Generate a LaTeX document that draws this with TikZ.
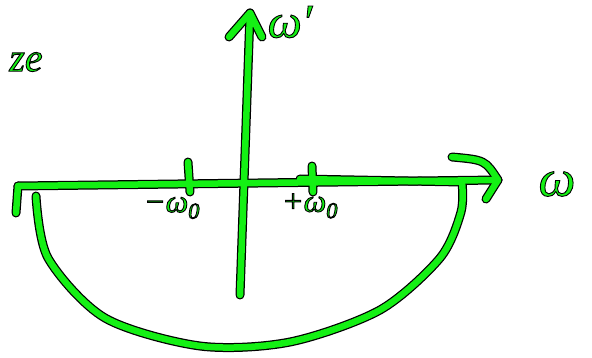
\documentclass[tikz,border=0pt]{standalone}
\usepackage{fontspec}
\setmainfont{Liberation Serif}
\usetikzlibrary{positioning}
\definecolor{sketchgreen}{RGB}{20,240,20}
\tikzset{
  outline/.style={draw=black, line width=9pt, line cap=round, line join=round},
  ink/.style={draw=sketchgreen, line width=6.5pt, line cap=round, line join=round},
  lbl/.style={inner sep=0pt, font=\fontsize{#1}{#1}\selectfont\itshape},
  lbl/.default=30
}
% green letters with a black rim
\newcommand\inked[1]{\textcolor{sketchgreen}{\special{pdf:literal 0 0 0 RG 2 Tr 0.9 w}#1\special{pdf:literal 0 Tr}}}
% all strokes, drawn once as outline and once as ink
\newcommand\sketchlines[1]{%
  \draw[#1] (hl) -- (hr);
  \draw[#1] (hook) -- (hl);
  \draw[#1] (hup) .. controls (485,160) .. (hr) -- (hdn);
  \draw[#1] (vb) -- (vt);
  \draw[#1] (vup) -- (vt) -- (vdn);
  \draw[#1] (t1a) -- (t1b);
  \draw[#1] (t2a) -- (t2b);
  \draw[#1] plot[smooth] coordinates {(36,196) (48,258) (105,318) (200,346) (290,342) (380,310) (440,258) (461,212) (462,182)};
  \draw[#1] (462,182) -- (300,179);
}
\begin{document}
\begin{tikzpicture}[x=1pt,y=-1pt]
  \useasboundingbox (0,0) rectangle (592,358);
  % horizontal axis
  \coordinate (hl) at (18,186);
  \coordinate (hr) at (498,180);
  \coordinate (hook) at (16,213);
  \coordinate (hup) at (452,157);
  \coordinate (hdn) at (486,199);
  % vertical axis
  \coordinate (vb) at (240,295);
  \coordinate (vt) at (250,13);
  \coordinate (vup) at (229,37);
  \coordinate (vdn) at (262,37);
  % ticks
  \coordinate (t1a) at (188,162);
  \coordinate (t1b) at (190,192);
  \coordinate (t2a) at (312,166);
  \coordinate (t2b) at (313,192);
  \sketchlines{outline}
  \sketchlines{ink}
  % labels
  \node[lbl=48] (wy) at (290,22) {\inked{ω′}};
  \node[lbl=52] (wx) at (557,184) {\inked{ω}};
  \node[lbl=32] (mw) at (172,208) {\inked{−ω\textsubscript{0}}};
  \node[lbl=32] (pw) at (310,206) {\inked{+ω\textsubscript{0}}};
  \node[lbl=40] (zlab) at (26,62) {\inked{ze}};
\end{tikzpicture}
\end{document}
